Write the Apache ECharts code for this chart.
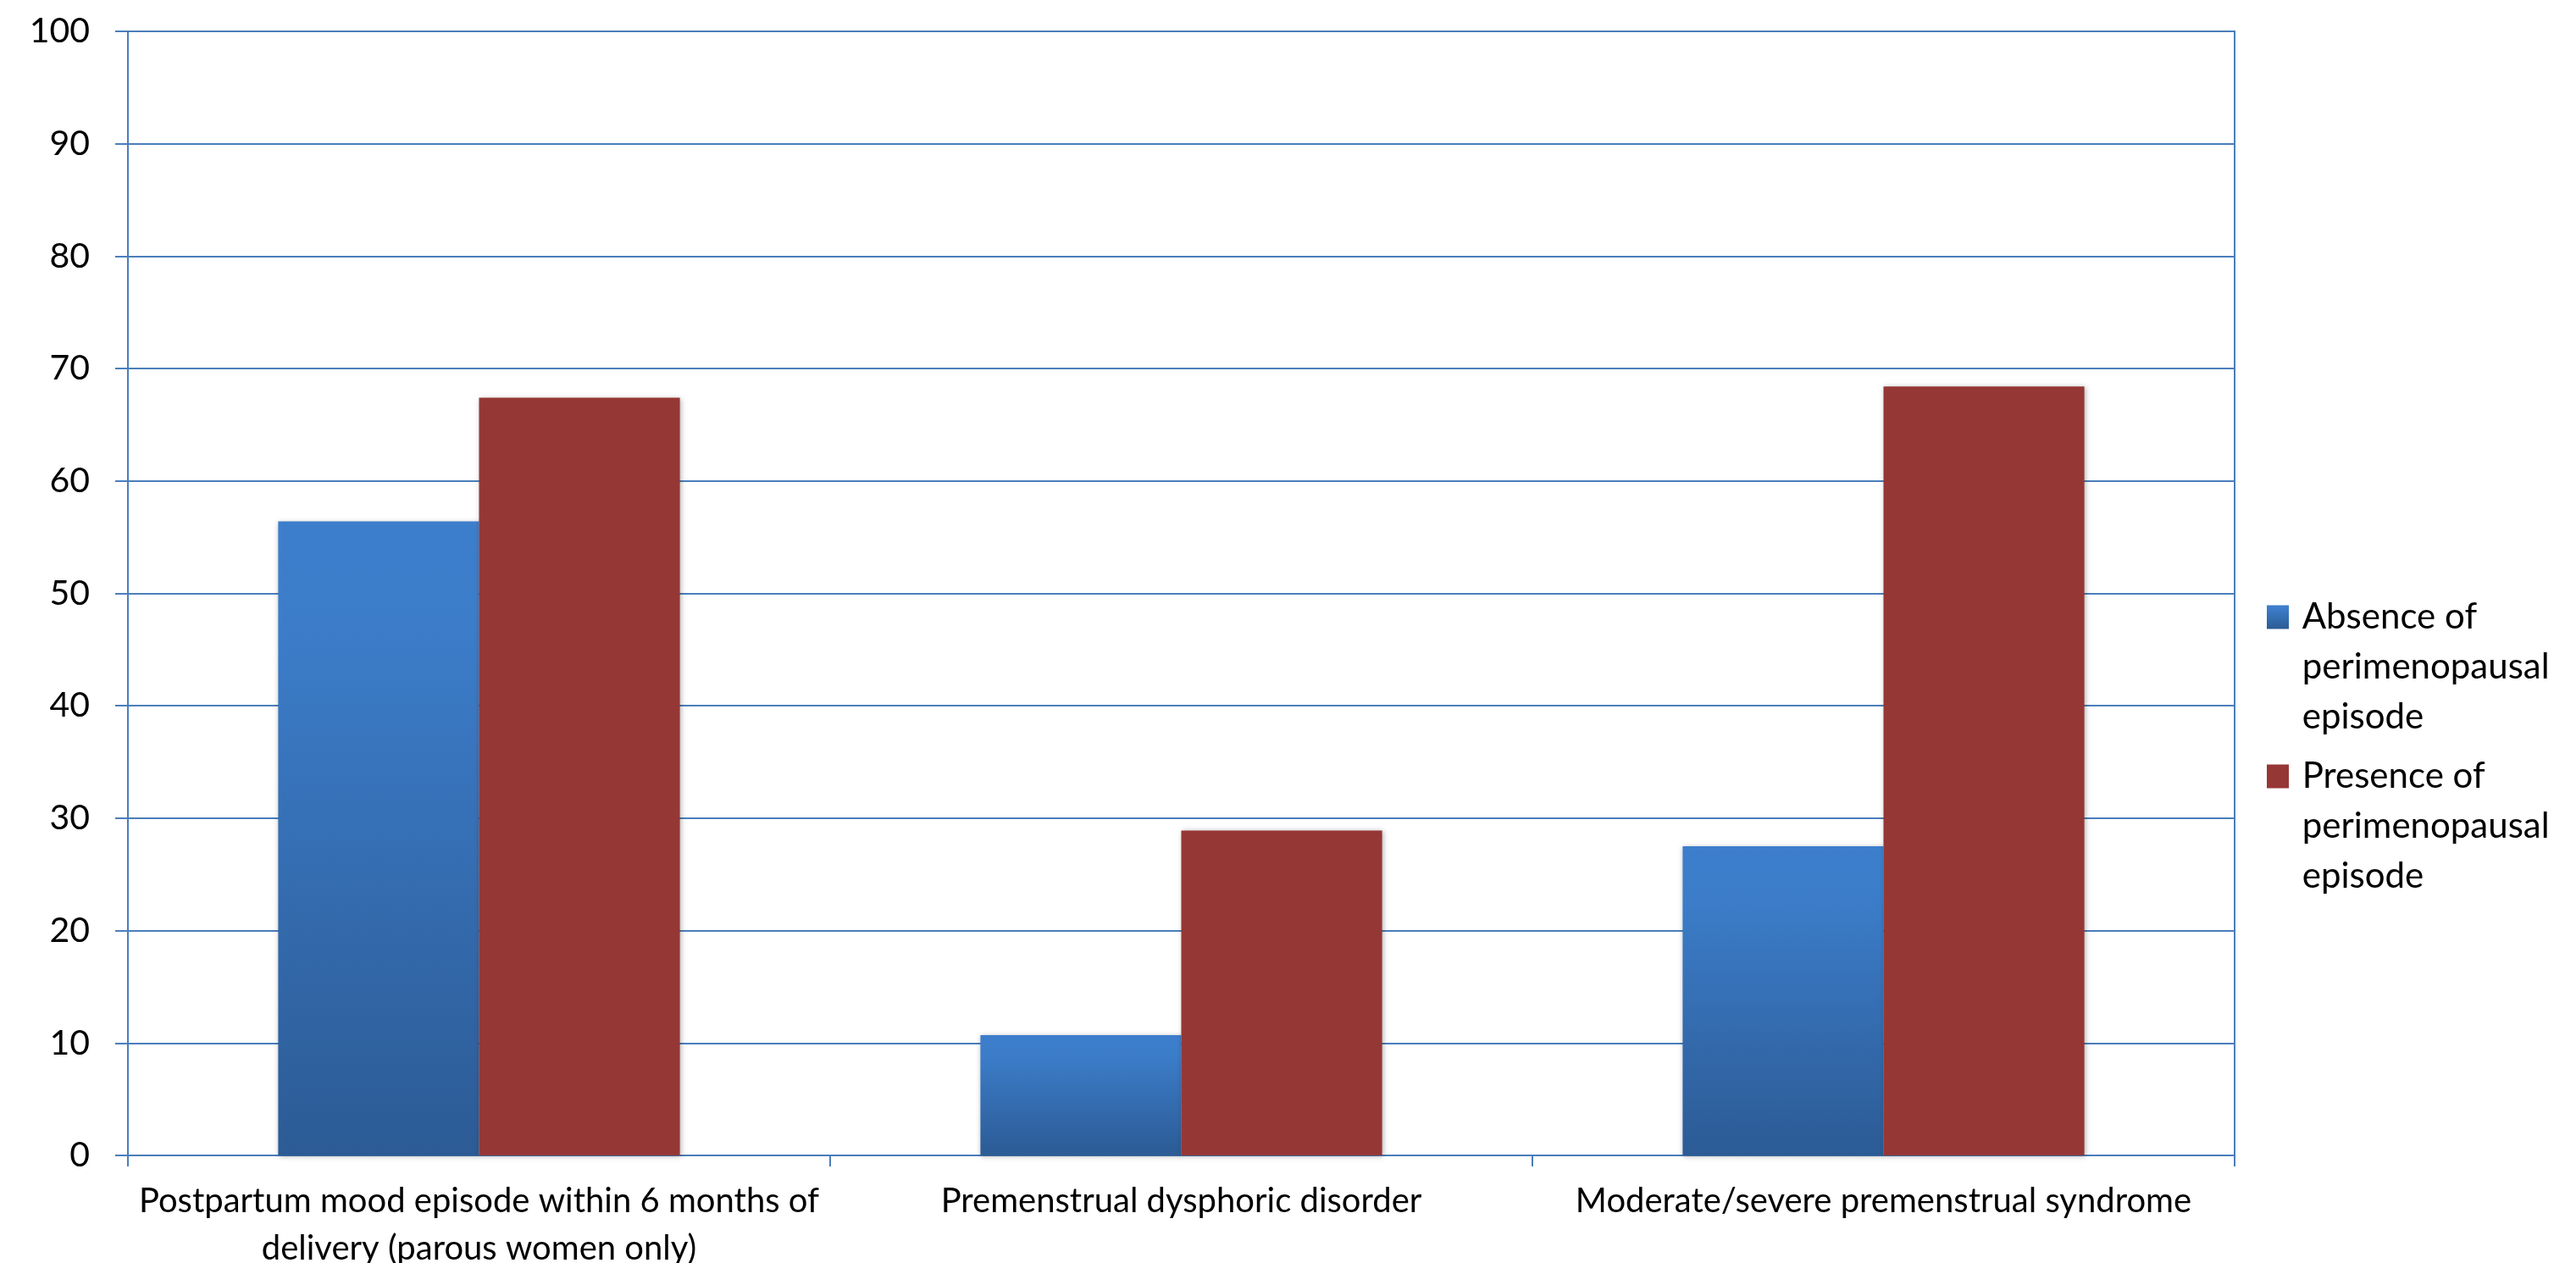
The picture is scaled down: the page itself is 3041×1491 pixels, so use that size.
<!DOCTYPE html>
<html>
<head>
<meta charset="utf-8">
<title>Reproductive mood history by perimenopausal episode</title>
<script src="https://cdn.jsdelivr.net/npm/echarts@6/dist/echarts.min.js"></script>
<style>
  html, body { margin: 0; padding: 0; background: #ffffff; }
  #chart { width: 3041px; height: 1491px; }
</style>
</head>
<body>
<div id="chart"></div>
<script>
// Categories on the x axis (line breaks as displayed)
const categories = [
  'Postpartum mood episode within 6 months of\ndelivery (parous women only)',
  'Premenstrual dysphoric disorder',
  'Moderate/severe premenstrual syndrome'
];

// Series names
const seriesNames = [
  'Absence of perimenopausal episode',
  'Presence of perimenopausal episode'
];

// Percentages per category
const absenceValues = [56.4, 10.7, 27.5];
const presenceValues = [67.4, 28.9, 68.4];

// Y axis range
const yMin = 0;
const yMax = 100;
const yStep = 10;

const FONT = 'Lato, "Open Sans", sans-serif';
const AXIS_BLUE = '#4A7EBB';

const blueFill = new echarts.graphic.LinearGradient(0, 0, 0, 1, [
  { offset: 0, color: '#3D7ECC' },
  { offset: 0.15, color: '#3C7DCA' },
  { offset: 1, color: '#2C5B95' }
]);
const redFill = '#953735';

const barShadow = {
  shadowBlur: 6,
  shadowColor: 'rgba(0,0,0,0.30)',
  shadowOffsetX: 1,
  shadowOffsetY: 1
};

// Legend text wraps onto three lines; the first line sits beside the swatch,
// so two blank lines above keep the block's middle on that first line.
function wrapLegend(name) {
  const lines = name.replace(' perimenopausal ', '\nperimenopausal\n').split('\n');
  return ['\u00a0', '\u00a0'].concat(lines.map(l => ' ' + l)).join('\n');
}

function legendFor(name, top) {
  return {
    data: [name],
    orient: 'vertical',
    left: 2671,
    top: top,
    icon: 'rect',
    itemWidth: 26,
    itemHeight: 28,
    selectedMode: false,
    formatter: wrapLegend,
    textStyle: {
      fontFamily: FONT,
      fontSize: 42,
      lineHeight: 59,
      color: '#000000'
    }
  };
}

const chart = echarts.init(document.getElementById('chart'), null, { renderer: 'canvas' });

chart.setOption({
  backgroundColor: '#ffffff',
  animation: false,
  grid: {
    left: 151,
    right: 403,
    top: 37,
    bottom: 127,
    containLabel: false,
    outerBoundsMode: 'none',
    show: true,
    borderColor: AXIS_BLUE,
    borderWidth: 2,
    backgroundColor: 'transparent'
  },
  legend: [
    legendFor(seriesNames[0], 576),
    legendFor(seriesNames[1], 764)
  ],
  xAxis: {
    type: 'category',
    data: categories,
    boundaryGap: true,
    axisLine: { show: true, lineStyle: { color: AXIS_BLUE, width: 2 } },
    axisTick: {
      show: true,
      interval: 0,
      length: 13,
      lineStyle: { color: AXIS_BLUE, width: 2 }
    },
    axisLabel: {
      interval: 0,
      margin: 26,
      fontFamily: FONT,
      fontSize: 40,
      lineHeight: 56,
      color: '#000000',
      align: 'center'
    },
    splitLine: { show: false }
  },
  yAxis: {
    type: 'value',
    min: yMin,
    max: yMax,
    interval: yStep,
    axisLine: { show: true, lineStyle: { color: AXIS_BLUE, width: 2 } },
    axisTick: { show: true, length: 15, lineStyle: { color: AXIS_BLUE, width: 2 } },
    axisLabel: {
      margin: 45,
      fontFamily: FONT,
      fontSize: 41,
      color: '#000000'
    },
    splitLine: { show: true, lineStyle: { color: AXIS_BLUE, width: 2 } }
  },
  series: [
    {
      name: seriesNames[0],
      type: 'bar',
      data: absenceValues,
      barGap: '0%',
      barCategoryGap: '42.8%',
      itemStyle: Object.assign({ color: blueFill }, barShadow)
    },
    {
      name: seriesNames[1],
      type: 'bar',
      data: presenceValues,
      barGap: '0%',
      barCategoryGap: '42.8%',
      itemStyle: Object.assign({ color: redFill }, barShadow)
    }
  ]
});
</script>
</body>
</html>
